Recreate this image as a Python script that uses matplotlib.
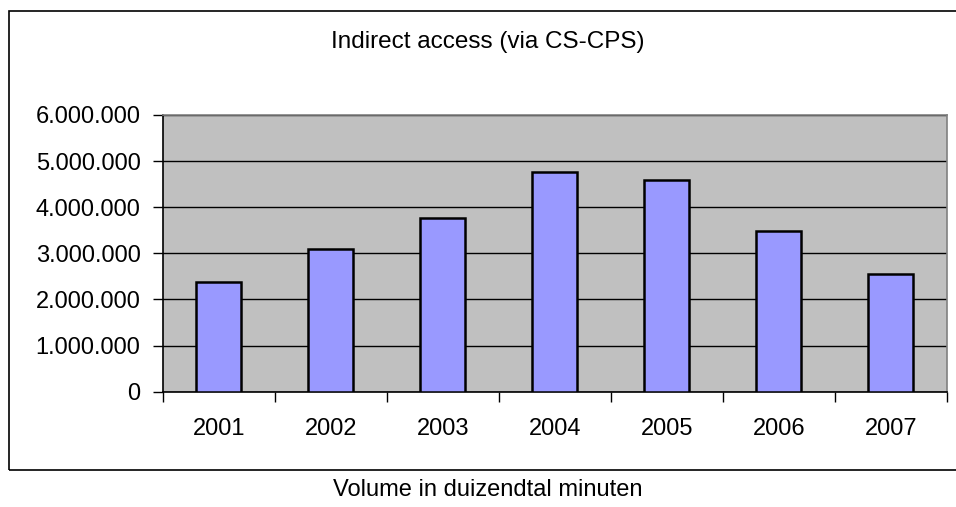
import matplotlib.pyplot as plt
from matplotlib.patches import Rectangle
import numpy as np

plt.rcParams['font.family'] = ['Liberation Sans', 'DejaVu Sans']

years = ['2001', '2002', '2003', '2004', '2005', '2006', '2007']
volume = [2373000, 3089000, 3761000, 4772000, 4592000, 3492000, 2546000]
y_ticks = [0, 1000000, 2000000, 3000000, 4000000, 5000000, 6000000]
y_labels = ['0', '1.000.000', '2.000.000', '3.000.000', '4.000.000', '5.000.000', '6.000.000']

fig = plt.figure(figsize=(9.56, 5.07), dpi=100)
ax = fig.add_axes([0.1702, 0.2274, 0.8201, 0.5458])

x = np.arange(len(years))
ax.set_facecolor('#C0C0C0')
ax.set_axisbelow(True)
ax.yaxis.grid(True, color='black', linewidth=1.0)
ax.bar(x, volume, width=0.4, color='#9999FF', edgecolor='black', linewidth=1.8, zorder=3)

ax.set_xlim(-0.5, len(years) - 0.5)
ax.set_ylim(0, 6000000)
ax.set_yticks(y_ticks)
ax.set_yticklabels(y_labels, fontsize=17)
ax.set_xticks(x)
ax.set_xticklabels(years, fontsize=17)
ax.set_xticks(np.arange(len(years) + 1) - 0.5, minor=True)
ax.tick_params(axis='x', which='major', length=0, pad=19)
ax.tick_params(axis='x', which='minor', length=7, width=1, color='black')
ax.tick_params(axis='y', length=7, width=1, pad=9)

for s in ['top', 'right']:
    ax.spines[s].set_color('#808080')
    ax.spines[s].set_linewidth(1.2)
for s in ['left', 'bottom']:
    ax.spines[s].set_color('black')
    ax.spines[s].set_linewidth(1.2)

# outer chart frame (right edge cut off)
W, H = 956, 507
fig.patches.append(Rectangle((9 / W, 1 - 470 / H), 1.0, (470 - 11) / H,
                             transform=fig.transFigure, fill=False,
                             edgecolor='black', linewidth=1.2))

fig.text(488 / W, 1 - 42 / H, 'Indirect access (via CS-CPS)', fontsize=17.5,
         ha='center', va='center')
fig.text(488 / W, 1 - 490 / H, 'Volume in duizendtal minuten', fontsize=17,
         ha='center', va='center')

fig.savefig('out.png', dpi=100)
